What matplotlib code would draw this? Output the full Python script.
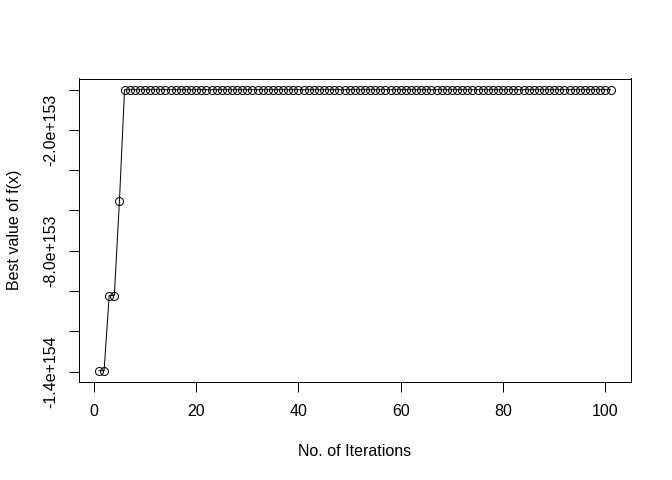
import numpy as np
import matplotlib
matplotlib.use('Agg')
import matplotlib.pyplot as plt

# best f(x) per iteration
early_best = [-1.395e154, -1.395e154, -1.022e154, -1.022e154, -5.54e153]
plateau_best = -1.0e151
n_plateau = 96
best_vals = np.array(early_best + [plateau_best] * n_plateau)
iters = np.arange(1, len(best_vals) + 1)

xticks = [0, 20, 40, 60, 80, 100]
yticks = [-1.4e154, -1.2e154, -1.0e154, -8.0e153, -6.0e153, -4.0e153, -2.0e153, 0.0]
ytick_labels = ['-1.4e+154', '', '', '-8.0e+153', '', '', '-2.0e+153', '']

plt.rcParams['font.family'] = ['Liberation Sans', 'DejaVu Sans']

fig = plt.figure(figsize=(7, 5), dpi=96)
ax = fig.add_axes([78.5 / 672, 1 - 382 / 480, (631 - 78.5) / 672, (382 - 78.5) / 480])

ax.plot(iters, best_vals, color='k', linewidth=0.75, marker='o',
        markersize=6.0, markerfacecolor='none', markeredgecolor='k',
        markeredgewidth=0.75)

# R style 4% padding
def padded(lo, hi):
    d = (hi - lo) * 0.04
    return lo - d, hi + d

ax.set_xlim(padded(iters.min(), iters.max()))
ax.set_ylim(padded(best_vals.min(), best_vals.max()))

ax.set_xticks(xticks)
ax.set_yticks(yticks)
ax.set_yticklabels(ytick_labels, rotation=90, va='center')

ax.tick_params(axis='both', direction='out', length=7.2, width=0.75,
               labelsize=12, colors='k')
ax.tick_params(axis='x', pad=9.5)
ax.tick_params(axis='y', pad=8)

for s in ax.spines.values():
    s.set_linewidth(0.75)

ax.set_xlabel('No. of Iterations', fontsize=12, labelpad=18.5)
ax.set_ylabel('Best value of f(x)', fontsize=12, labelpad=16)

fig.savefig('out.png', dpi=96)
